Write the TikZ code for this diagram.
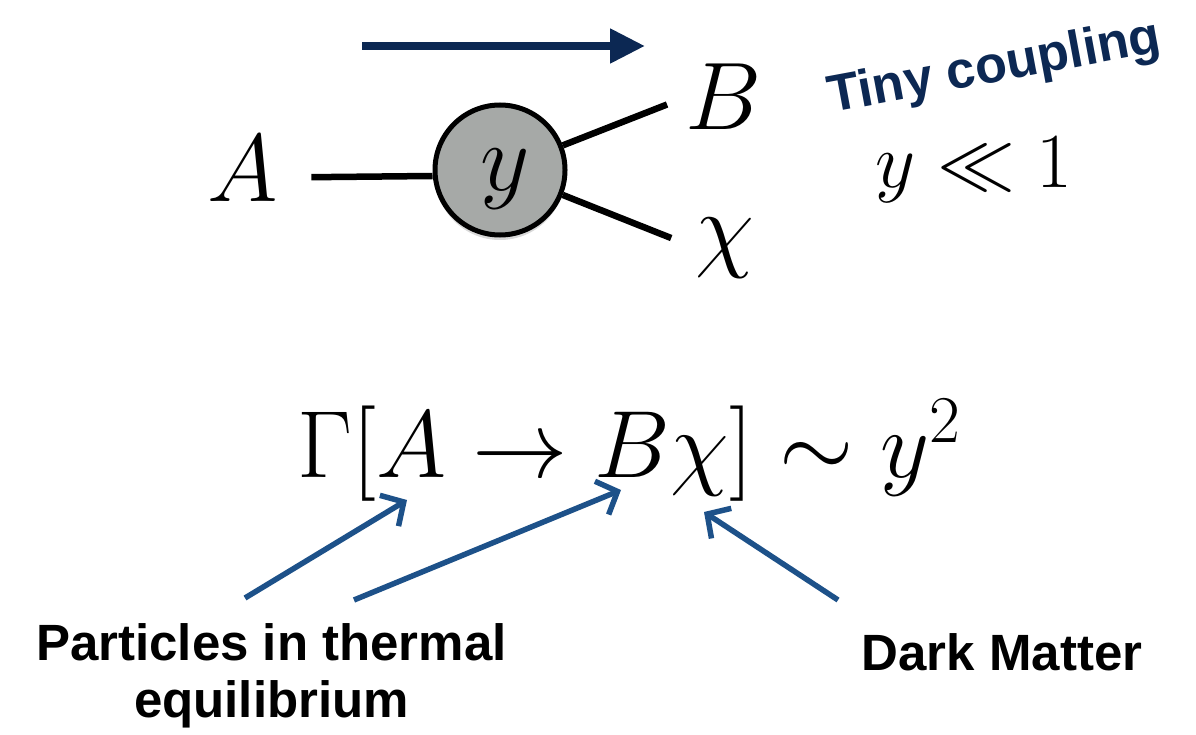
\RequirePackage{fix-cm}
\documentclass[tikz,border=0pt]{standalone}
\usepackage{fontspec}
\newfontfamily\labfont{Liberation Sans}
\usetikzlibrary{arrows.meta,shadows}
\definecolor{navy}{HTML}{0C2853}
\definecolor{ptrblue}{HTML}{1D5189}
\definecolor{circgray}{HTML}{A6A9A7}
\begin{document}
\begin{tikzpicture}[x=1pt,y=-1pt,
  mathlbl/.style={inner sep=0pt, font=\fontsize{96}{110}\selectfont},
  leg/.style={line width=6.5pt, black},
  pointer/.style={line width=5.5pt, ptrblue, -{Straight Barb[length=17pt,width=36pt]}},
  lab/.style={inner sep=0pt, font=\labfont\bfseries\fontsize{51}{57}\selectfont}]
\useasboundingbox (0,0) rectangle (1196,735);
% top arrow
\coordinate (p1) at (362,46);
\coordinate (p2) at (645,46);
\draw[navy, line width=8pt, -{Triangle[length=35pt,width=33pt]}] (p1) -- (p2);
% diagram
\node[mathlbl, anchor=base] (A) at (243,202) {$A$};
\node[mathlbl, anchor=base] (B) at (724,130) {$B$};
\node[mathlbl, anchor=base] (X) at (725,259) {$\chi$};
\node[circle, draw, line width=5pt, fill=circgray, minimum size=130pt, inner sep=0pt,
      drop shadow={opacity=0.3, shadow xshift=0pt, shadow yshift=-5pt}] (c) at (500,170) {};
\node[mathlbl, anchor=base] (cy) at (505,191) {$y$};
\draw[leg] ([xshift=33pt,yshift=-8pt]A.east) -- ([yshift=-6pt]c.west);
\draw[leg, shorten >=20pt] (c) -- (B.west);
\draw[leg, shorten >=26pt] (c) -- (X.west);
% tiny coupling
\node[font=\labfont\bfseries\fontsize{52}{60}\selectfont, text=navy, rotate=10.5, anchor=base, inner sep=0pt] (tiny) at (997,82) {Tiny coupling};
\node[font=\fontsize{78}{90}\selectfont, inner sep=0pt, anchor=base] (cond) at (974,188) {$y \ll 1$};
% formula
\node[font=\fontsize{95.5}{110}\selectfont, inner sep=0pt, anchor=base west] (F) at (297,477) {$\Gamma[A\rightarrow B\chi]\sim y^2$};
% labels
\node[lab, align=center, anchor=north] (L1) at (271.5,623) {Particles in thermal\\equilibrium};
\node[lab, anchor=base] (L2) at (1002,670) {Dark Matter};
% pointers
\coordinate (a1s) at (245,598); \coordinate (a1t) at (407,500);
\coordinate (a2s) at (354,600); \coordinate (a2t) at (621,490);
\coordinate (a3s) at (838,600); \coordinate (a3t) at (704,512);
\draw[pointer] (a1s) -- (a1t);
\draw[pointer] (a2s) -- (a2t);
\draw[pointer] (a3s) -- (a3t);
\end{tikzpicture}
\end{document}
